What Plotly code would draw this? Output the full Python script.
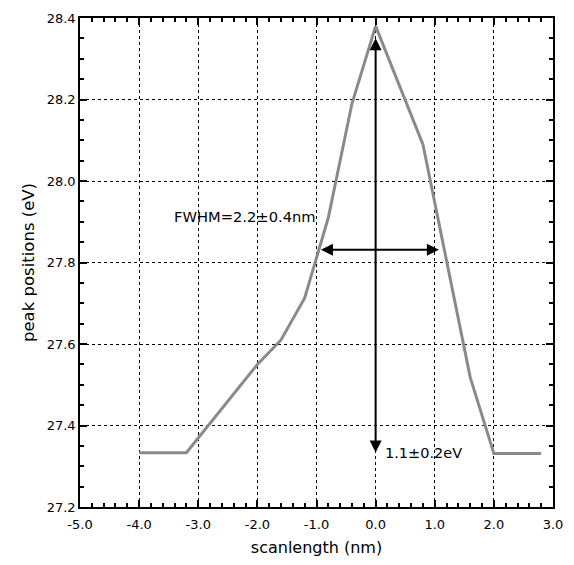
import plotly.graph_objects as go

# data
scan_x = [-4.0, -3.2, -2.0, -1.6, -1.2, -0.8, -0.4, 0.0, 0.8, 1.2, 1.6, 2.0, 2.8]
peak_y = [27.333, 27.333, 27.55, 27.61, 27.713, 27.91, 28.19, 28.38, 28.09, 27.80, 27.518, 27.331, 27.331]

x_ticks = [-5.0, -4.0, -3.0, -2.0, -1.0, 0.0, 1.0, 2.0, 3.0]
y_ticks = [27.2, 27.4, 27.6, 27.8, 28.0, 28.2, 28.4]

fwhm_x = [-0.95, 1.07]
fwhm_y = 27.831
height_x = 0.0
height_y = [27.33, 28.35]

font = "DejaVu Sans"

fig = go.Figure()
fig.add_trace(go.Scatter(x=scan_x, y=peak_y, mode="lines",
                         line=dict(color="#8a8a8a", width=3), showlegend=False))

# double-headed arrows
fig.add_annotation(x=fwhm_x[1], y=fwhm_y, ax=fwhm_x[0], ay=fwhm_y,
                   xref="x", yref="y", axref="x", ayref="y", text="",
                   showarrow=True, arrowhead=2, startarrowhead=2, arrowside="end+start",
                   arrowwidth=2, arrowsize=1.2, startarrowsize=1.2, arrowcolor="black")
fig.add_annotation(x=height_x, y=height_y[1], ax=height_x, ay=height_y[0],
                   xref="x", yref="y", axref="x", ayref="y", text="",
                   showarrow=True, arrowhead=2, startarrowhead=2, arrowside="end+start",
                   arrowwidth=2, arrowsize=1.2, startarrowsize=1.2, arrowcolor="black")

fig.add_annotation(x=-3.44, y=27.912, text="FWHM=2.2±0.4nm", showarrow=False,
                   xanchor="left", yanchor="middle", font=dict(size=14.7, color="black", family=font))
fig.add_annotation(x=0.12, y=27.333, text="1.1±0.2eV", showarrow=False,
                   xanchor="left", yanchor="middle", font=dict(size=14.5, color="black", family=font))

axis_common = dict(
    showline=True, linecolor="black", linewidth=1.5, mirror="ticks",
    ticks="inside", ticklen=7, tickcolor="black", tickwidth=1.5,
    showgrid=True, gridcolor="black", griddash="dot", gridwidth=1,
    zeroline=False,
    tickfont=dict(size=13, color="black", family=font),
)

fig.update_xaxes(range=[-5.0, 3.0], tickvals=x_ticks,
                 ticktext=[f"{v:.1f}" for v in x_ticks], ticklabelstandoff=5,
                 minor=dict(ticks="inside", dtick=0.2, ticklen=4, tickcolor="black", showgrid=False),
                 title=dict(text="scanlength (nm)", font=dict(size=16, color="black", family=font), standoff=10),
                 **axis_common)
fig.update_yaxes(range=[27.2, 28.4], tickvals=y_ticks,
                 ticktext=[f"{v:.1f}" for v in y_ticks],
                 minor=dict(ticks="inside", dtick=0.05, ticklen=4, tickcolor="black", showgrid=False),
                 title=dict(text="peak positions (eV)", font=dict(size=16.5, color="black", family=font), standoff=8),
                 **axis_common)

fig.update_layout(width=574, height=565, margin=dict(l=80, r=11, t=15, b=58),
                  plot_bgcolor="white", paper_bgcolor="white", showlegend=False)

fig.write_html("out.html")
